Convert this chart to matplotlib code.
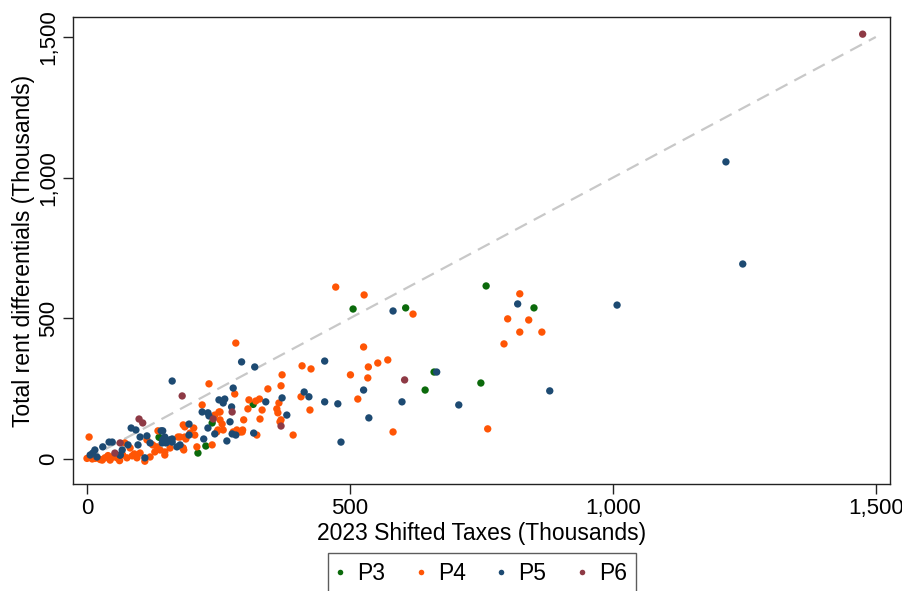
import matplotlib
matplotlib.use('Agg')
import matplotlib.pyplot as plt
from matplotlib.ticker import FuncFormatter
from matplotlib.lines import Line2D

plt.rcParams['font.family'] = ['Liberation Sans', 'DejaVu Sans']

# ---- data (thousands) ----
p3_x = [759, 850, 606, 506, 660, 749, 643, 316, 238, 226, 211, 137]
p3_y = [615, 537, 537, 533, 309, 270, 245, 194, 128, 46, 21, 77]

p4_x = [823, 800, 840, 823, 865, 793, 762, 473, 527, 620, 283, 526, 409, 426,
        572, 553, 535, 501, 534, 515, 582, 424, 407, 371, 369, 344, 365, 361,
        363, 367, 392, 333, 328, 321, 308, 306, 329, 298, 296, 291, 323, 281,
        232, 219, 253, 253, 257, 295, 238, 251, 249, 209, 205, 186, 183, 188,
        203, 173, 183, 184, 152, 148, 4, 135, 177, 139, 148, 158, 369, 243,
        278, 285, 247, 259, 196, 186, 182, 6, 10, 19, 29, 34, 44, 49, 57, 68,
        76, 86, 95, 101, 120, 129, 133, 82, 72, 114, 125, 0, 25, 40, 62, 90,
        110, 15, 52]
p4_y = [587, 498, 494, 451, 451, 409, 107, 611, 583, 515, 412, 398, 331, 320,
        352, 341, 327, 299, 288, 213, 96, 174, 221, 299, 260, 249, 199, 178,
        164, 132, 85, 174, 213, 206, 210, 178, 142, 139, 103, 96, 85, 231,
        267, 192, 167, 139, 124, 96, 50, 167, 103, 43, 85, 114, 121, 71,
        110, 78, 39, 32, 64, 14, 78, 100, 78, 32, 25, 39, 139, 156,
        96, 103, 96, 103, 92, 78, 39, 7, 0, 4, -4, 4, -4, 7, 4, 14,
        4, 11, 4, 21, 7, 25, 43, 39, 57, 68, 50, 2, -2, 12, -6, 18,
        -8, 2, 10]

p5_x = [1215, 1247, 1008, 880, 819, 582, 665, 707, 599, 536, 526, 483, 452,
        452, 477, 413, 422, 380, 371, 340, 319, 294, 317, 278, 251, 259, 262,
        275, 272, 230, 243, 276, 283, 266, 222, 219, 230, 232, 162, 194, 194,
        177, 162, 144, 84, 93, 101, 120, 110, 97, 78, 63, 42, 30, 15, 6, 19,
        152, 158, 148, 144, 150, 162, 143, 171, 67, 63, 11, 48, 141, 114]
p5_y = [1056, 693, 547, 242, 551, 526, 309, 192, 203, 146, 245, 60, 348,
        203, 196, 238, 221, 156, 217, 203, 327, 345, 92, 252, 210, 199, 213,
        185, 132, 110, 89, 89, 85, 64, 71, 167, 164, 153, 277, 124, 85,
        50, 71, 100, 110, 103, 78, 57, 4, 50, 50, 14, 60, 43, 32, 14, 7,
        60, 68, 78, 68, 57, 60, 57, 43, 32, 14, 21, 60, 100, 82]

p6_x = [1475, 604, 369, 276, 240, 181, 99, 106, 63, 53]
p6_y = [1510, 281, 117, 167, 142, 224, 142, 128, 57, 21]

groups = ['P3', 'P4', 'P5', 'P6']
colors = ['#0b6a0b', '#ff5505', '#1d4a72', '#8e3a45']

fig = plt.figure(figsize=(9.03, 5.91), dpi=100, facecolor='white')
ax = fig.add_axes([73/903, 107/591, 817/903, 467/591])

# 45-degree reference line
ax.plot([0, 1500], [0, 1500], color='#c8c8c8', lw=1.6, dashes=(6, 3.5), zorder=1)

data = [(p3_x, p3_y), (p4_x, p4_y), (p5_x, p5_y), (p6_x, p6_y)]
for (xs, ys), col in zip(data, colors):
    ax.scatter(xs, ys, s=28, color=col, edgecolors='none', zorder=3)

ax.set_xlim(-26.6, 1527)
ax.set_ylim(-89, 1571)
ax.set_xticks([0, 500, 1000, 1500])
ax.set_yticks([0, 500, 1000, 1500])
fmt = FuncFormatter(lambda v, p: f'{int(v):,}')
ax.xaxis.set_major_formatter(fmt)
ax.yaxis.set_major_formatter(fmt)
ax.tick_params(direction='out', length=7, width=1, colors='#222222',
               labelsize=16, labelcolor='black', pad=3)
plt.setp(ax.get_yticklabels(), rotation=90, va='center')
for sp in ax.spines.values():
    sp.set_color('#222222')
    sp.set_linewidth(1.0)

ax.set_xlabel('2023 Shifted Taxes (Thousands)', fontsize=16.5, labelpad=2)
ax.set_ylabel('Total rent differentials (Thousands)', fontsize=16.5, labelpad=2)

handles = [Line2D([], [], marker='o', ls='none', color=c, markersize=4,
                  markeredgewidth=0) for c in colors]
leg = fig.legend(handles, groups, loc='upper center', ncol=4,
                 bbox_to_anchor=(482/903, 1 - 553/591), frameon=True,
                 fontsize=16.5, handletextpad=0.6, columnspacing=1.4,
                 borderpad=0.4, borderaxespad=0, fancybox=False,
                 handlelength=0.3)
leg.get_frame().set_edgecolor('#333333')
leg.get_frame().set_linewidth(1.0)

fig.savefig('out.png', dpi=100, facecolor='white')
